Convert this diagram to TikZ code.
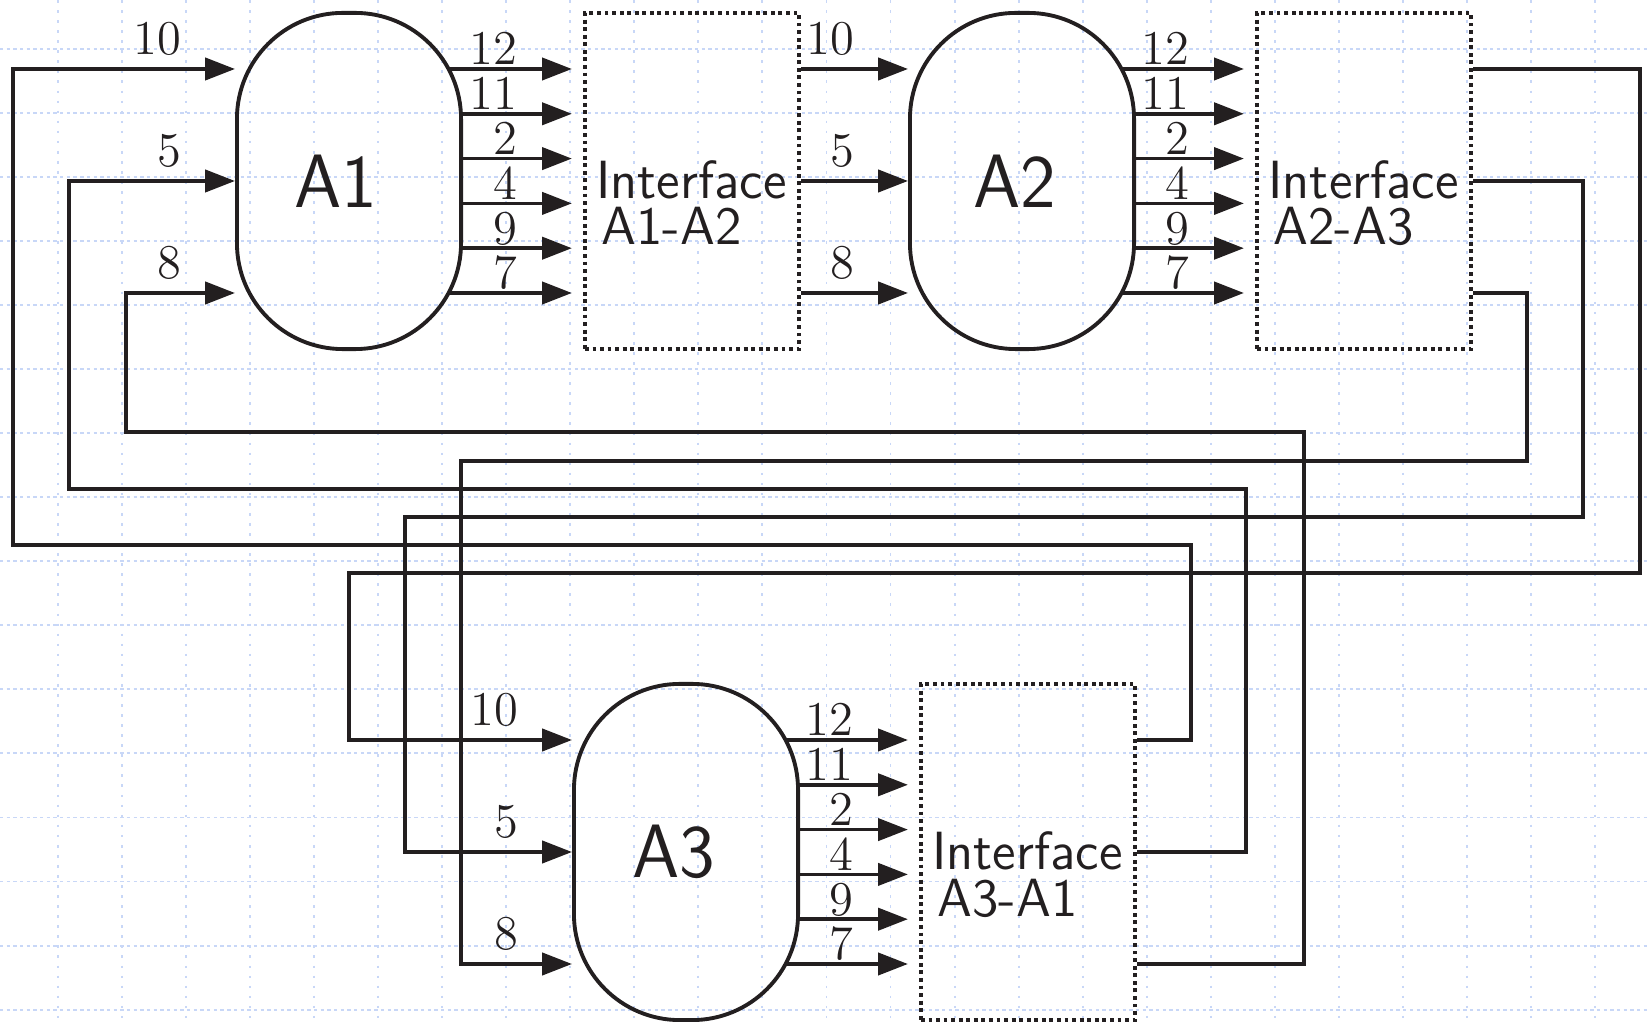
\documentclass[tikz,border=0pt]{standalone}
\usepackage{fontspec}
\usetikzlibrary{arrows.meta,calc}

\definecolor{ink}{RGB}{35,31,32}
\definecolor{gridblue}{RGB}{200,215,247}

\tikzset{
  gridh/.style={gridblue, line width=0.55pt, dash pattern=on 0.95pt off 0.95pt},
  gridv/.style={gridblue, line width=0.55pt, dash pattern=on 0.76pt off 2.1pt},
  wire/.style={line width=1.05pt},
  arr/.style={-{Triangle[length=8.5pt,width=6.3pt]}},
  ashape/.style={draw, line width=1.1pt, rounded corners=1.06cm,
    minimum width=2.24cm, minimum height=3.36cm, inner sep=0pt},
  atext/.style={font=\fontsize{21.5}{25}\sffamily, inner sep=0pt},
  ifbox/.style={draw, line width=1.15pt, dash pattern=on 1.1pt off 1.05pt,
    minimum width=2.14cm, minimum height=3.36cm, inner sep=0pt},
  iftext/.style={font=\fontsize{15.3}{13.1}\sffamily, align=left,
    anchor=base west, inner sep=0pt},
  inlbl/.style={font=\fontsize{13.8}{16}\selectfont, anchor=base east,
    inner sep=0pt, xshift=-5.2mm, yshift=1.45mm},
  outlbl/.style={font=\fontsize{13.8}{16}\selectfont, anchor=base east,
    inner sep=0pt, xshift=-5.3mm, yshift=0.4mm}
}

\begin{document}
\begin{tikzpicture}[x=0.01cm, y=-0.01cm, color=ink]
  \useasboundingbox (0,0) rectangle (1648,1022);

  % grid paper
  \foreach \k in {0,...,15} {
    \draw[gridh] (0,{49+64.04*\k}) -- (1648,{49+64.04*\k});
  }
  \foreach \k in {0,...,24} {
    \draw[gridv] ({58+64.04*\k},0) -- ({58+64.04*\k},1022);
  }

  % blocks
  \node[ashape] (A1) at (349,181) {};
  \node[ashape] (A2) at (1022,181) {};
  \node[ashape] (A3) at (686,852) {};
  \node[ifbox] (I12) at (692,181) {};
  \node[ifbox] (I23) at (1364,181) {};
  \node[ifbox] (I31) at (1028,852) {};

  % block texts (base = last line)
  \foreach \n/\dx in {A1/-13, A2/-7, A3/-12} {
    \node[atext] (\n-txt) at ($(\n)+(\dx,0)$) {\n};
  }
  \foreach \n/\pair in {I12/A1-A2, I23/A2-A3, I31/A3-A1} {
    \node[iftext] (\n-txt) at ($(\n.west)+(13,64)$) {Interface\\ \hspace*{.5mm}\pair};
  }

  % outputs 12 11 2 4 9 7 into the interfaces
  \foreach \a/\i in {A1/I12, A2/I23, A3/I31} {
    \foreach \lab/\dy/\dx in {12/-112/100, 11/-67.2/112, 2/-22.4/112,
                              4/22.4/112, 9/67.2/112, 7/112/100} {
      \draw[wire, arr] ($(\a.center)+(\dx,\dy)$) -- ($(\i.west)+(-11,\dy)$)
        node[outlbl] (\a-o\lab) {\lab};
    }
  }

  % interface A1-A2 to A2
  \foreach \lab/\dy in {10/-112, 5/0, 8/112} {
    \draw[wire, arr] ($(I12.east)+(0,\dy)$) -- ($(A2.west)+(0,\dy)$)
      node[inlbl] (A2-i\lab) {\lab};
  }

  % interface A2-A3 round to A3
  \foreach \lab/\dy/\xr/\yr/\xl in {10/-112/1640/573/349, 5/0/1583/517/405, 8/112/1527/461/461} {
    \draw[wire, arr] ($(I23.east)+(0,\dy)$) -| (\xr,\yr) -- (\xl,\yr)
      |- ($(A3.west)+(0,\dy)$) node[inlbl] (A3-i\lab) {\lab};
  }

  % interface A3-A1 round to A1
  \foreach \lab/\dy/\xr/\yr/\xl in {10/-112/1191/545/13, 5/0/1246/489/69, 8/112/1304/432/126} {
    \draw[wire, arr] ($(I31.east)+(0,\dy)$) -| (\xr,\yr) -- (\xl,\yr)
      |- ($(A1.west)+(0,\dy)$) node[inlbl] (A1-i\lab) {\lab};
  }
\end{tikzpicture}
\end{document}
